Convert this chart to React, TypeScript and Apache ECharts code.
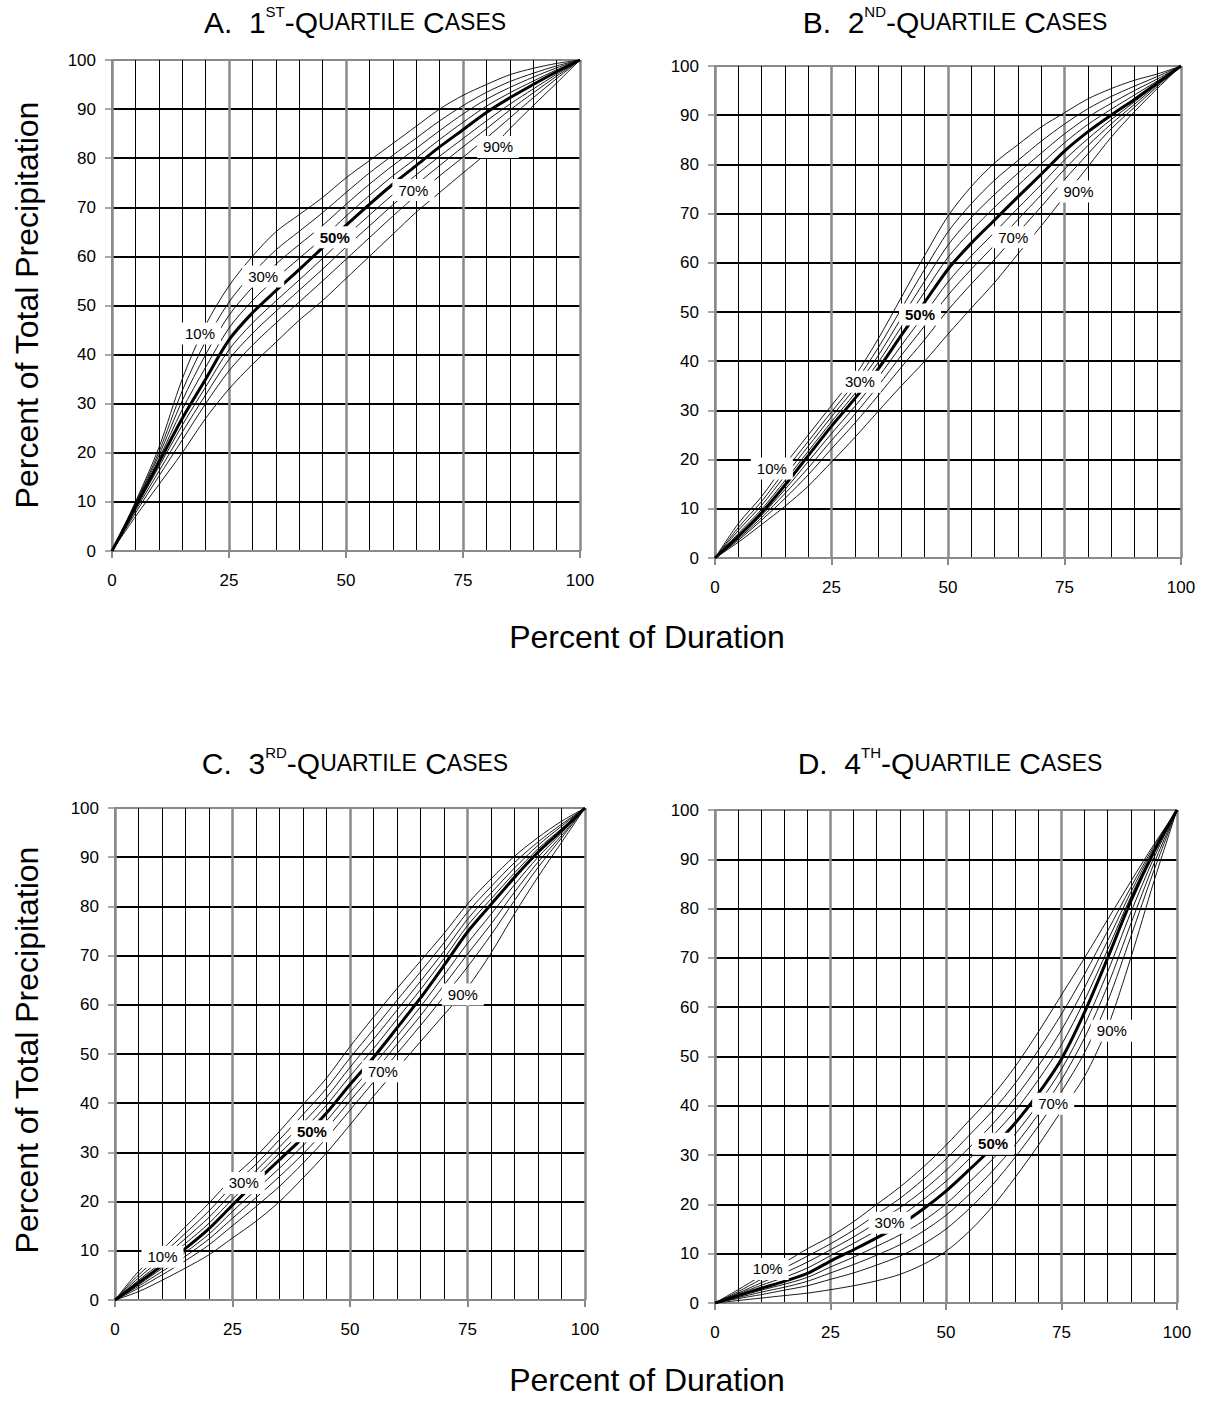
import React, { useEffect, useRef } from "react";
import * as echarts from "echarts";

const DURATION = [0, 5, 10, 15, 20, 25, 30, 35, 40, 45, 50, 55, 60, 65, 70, 75, 80, 85, 90, 95, 100];
const PERCENTILES = ["10%", "20%", "30%", "40%", "50%", "60%", "70%", "80%", "90%"];
const X_TICKS = [0, 25, 50, 75, 100];
const Y_TICKS = [0, 10, 20, 30, 40, 50, 60, 70, 80, 90, 100];

const PANEL_A = [
  [0, 10, 21, 35, 46, 54, 60, 65, 68.5, 72, 76, 79.5, 83, 86.5, 90, 92.8, 95, 97, 98.3, 99.3, 100],
  [0, 9.7, 20.1, 32.6, 42.7, 50.7, 56.5, 61.3, 65.1, 68.9, 73, 77, 80.6, 84.1, 87.6, 90.7, 93.4, 95.6, 97.3, 98.8, 100],
  [0, 9.5, 19.4, 30.6, 40, 48, 53.7, 58.4, 62.4, 66.3, 70.6, 74.7, 78.5, 82, 85.6, 89, 92, 94.4, 96.5, 98.4, 100],
  [0, 9.2, 18.7, 28.8, 37.4, 45.4, 51, 55.5, 59.6, 63.7, 68.2, 72.4, 76.4, 80, 83.8, 87.3, 90.6, 93.3, 95.7, 98, 100],
  [0, 9, 18, 27, 35, 43, 48.5, 53, 57.3, 61.8, 66.3, 70.6, 74.7, 78.5, 82.3, 85.8, 89.3, 92.3, 95, 97.6, 100],
  [0, 8.6, 17.1, 25.6, 33.4, 41, 46.4, 50.9, 55.2, 59.6, 64.1, 68.4, 72.6, 76.6, 80.4, 84, 87.6, 91, 94.1, 97.1, 100],
  [0, 8.2, 16.2, 24.2, 31.8, 39, 44.3, 48.8, 53.1, 57.4, 61.9, 66.2, 70.5, 74.6, 78.5, 82.3, 86, 89.8, 93.3, 96.7, 100],
  [0, 7.7, 15.2, 22.6, 30, 36.7, 41.9, 46.4, 50.7, 55, 59.4, 63.8, 68.2, 72.4, 76.4, 80.2, 84.1, 88.2, 92.3, 96.2, 100],
  [0, 7, 13.5, 20, 27, 33, 38, 42.5, 47, 51, 55.5, 60, 64.5, 69, 73, 77, 81, 86, 90.7, 95.3, 100],
];

const PANEL_B = [
  [0, 7, 12.5, 19, 25, 31, 37, 44.5, 53, 61.5, 69.5, 75.5, 80.3, 84, 87.6, 90.5, 93.3, 95.4, 97.1, 98.4, 100],
  [0, 6.2, 11.5, 17.7, 23.7, 29.7, 35.6, 42.7, 50.7, 58.7, 66.3, 72, 76.8, 80.8, 84.7, 88.2, 91.3, 93.8, 95.9, 97.9, 100],
  [0, 5.6, 10.7, 16.7, 22.7, 28.7, 34.5, 41.1, 48.8, 56.3, 63.6, 69.2, 73.9, 78.2, 82.3, 86.2, 89.6, 92.4, 95, 97.4, 100],
  [0, 5, 9.9, 15.7, 21.7, 27.7, 33.4, 39.7, 47, 54.1, 61.1, 66.5, 71.3, 75.7, 80.1, 84.4, 88.1, 91.2, 94.1, 97, 100],
  [0, 4.4, 9.2, 14.8, 20.8, 26.8, 32.4, 38.4, 45.3, 52, 58.7, 64, 68.7, 73.4, 78, 82.7, 86.6, 90, 93.2, 96.6, 100],
  [0, 4.2, 8.7, 13.9, 19.6, 25.3, 30.8, 36.7, 43.2, 49.6, 56.1, 61.4, 66.2, 71.1, 75.9, 80.9, 85.2, 89.1, 92.7, 96.4, 100],
  [0, 3.9, 8.2, 13.1, 18.3, 23.9, 29.2, 35, 41.2, 47.2, 53.4, 58.7, 63.6, 68.8, 73.8, 79, 83.8, 88.2, 92.2, 96.2, 100],
  [0, 3.6, 7.7, 12.1, 16.9, 22.2, 27.4, 33, 38.8, 44.4, 50.4, 55.7, 60.7, 66.1, 71.4, 76.9, 82.1, 87.2, 91.6, 95.9, 100],
  [0, 3.2, 6.8, 10.5, 14.6, 19.5, 24.5, 29.8, 35, 40, 45.5, 50.8, 56, 61.8, 67.5, 73.5, 79.5, 85.5, 90.7, 95.5, 100],
];

const PANEL_C = [
  [0, 5.8, 10.2, 14.9, 19.7, 24.8, 29.2, 34.3, 39.7, 45.1, 51.5, 57.5, 63.3, 68.9, 74.5, 80.5, 85.6, 90.2, 94, 97.3, 100],
  [0, 5.1, 9.2, 13.6, 18.1, 23.2, 27.6, 32.6, 37.7, 43, 49.2, 55, 60.9, 66.7, 72.6, 78.8, 84, 88.9, 93.1, 96.7, 100],
  [0, 4.5, 8.4, 12.5, 16.8, 21.8, 26.3, 31.1, 36, 41.2, 47.3, 53, 58.9, 64.8, 70.9, 77.4, 82.7, 87.8, 92.4, 96.3, 100],
  [0, 4, 7.7, 11.5, 15.6, 20.5, 25.1, 29.8, 34.5, 39.6, 45.5, 51.1, 57.1, 63.1, 69.4, 76.1, 81.5, 86.8, 91.7, 95.8, 100],
  [0, 3.5, 7, 10.5, 14.5, 19.3, 24, 28.5, 33, 38, 43.8, 49.3, 55.3, 61.4, 68, 74.8, 80.4, 85.9, 91, 95.4, 100],
  [0, 3.1, 6.4, 9.7, 13.4, 18, 22.4, 26.8, 31.4, 36.4, 42.2, 47.7, 53.6, 59.6, 66, 72.5, 78.4, 84.4, 90, 94.9, 100],
  [0, 2.8, 5.8, 8.9, 12.4, 16.6, 20.8, 25.1, 29.7, 34.8, 40.5, 46.1, 52, 57.8, 64, 70.3, 76.4, 82.9, 89, 94.4, 100],
  [0, 2.4, 5.1, 8, 11.2, 15.1, 19, 23.1, 27.8, 32.9, 38.6, 44.3, 50.1, 55.8, 61.7, 67.7, 74.2, 81.2, 87.9, 93.9, 100],
  [0, 1.7, 4, 6.5, 9.2, 12.6, 16, 20, 24.8, 29.9, 35.6, 41.4, 47, 52.5, 58, 63.5, 70.5, 78.5, 86, 93, 100],
];

const PANEL_D = [
  [0, 2.7, 5.5, 8.2, 11, 13.5, 16.5, 20, 23.5, 27.5, 32, 37, 42, 48, 55, 62.5, 70, 77.8, 85.5, 93, 100],
  [0, 2.3, 4.8, 7.1, 9.5, 12, 14.8, 18, 21.2, 25, 29.2, 34, 38.9, 44.6, 51.3, 58.6, 66.7, 75.5, 84.3, 92.6, 100],
  [0, 2, 4.1, 6.1, 8.3, 10.8, 13.4, 16.3, 19.3, 22.8, 26.9, 31.5, 36.2, 41.7, 48.1, 55.4, 64, 73.5, 83.3, 92.2, 100],
  [0, 1.8, 3.6, 5.2, 7.1, 9.6, 12.1, 14.7, 17.5, 20.9, 24.7, 29.2, 33.8, 39, 45.3, 52.4, 61.4, 71.7, 82.4, 91.8, 100],
  [0, 1.5, 3, 4.4, 6, 8.5, 10.8, 13.2, 15.8, 19, 22.7, 27, 31.5, 36.5, 42.5, 49.5, 59, 70, 81.5, 91.5, 100],
  [0, 1.3, 2.6, 3.8, 5.2, 7.3, 9.3, 11.5, 13.8, 16.6, 20.1, 24.5, 29.1, 34.3, 40.4, 47.4, 56.4, 67.2, 79.2, 90.3, 100],
  [0, 1.1, 2.2, 3.2, 4.4, 6.1, 7.8, 9.7, 11.8, 14.5, 17.8, 22, 26.7, 32.1, 38.3, 45.3, 53.8, 64.4, 76.9, 89.1, 100],
  [0, 0.9, 1.7, 2.6, 3.5, 4.8, 6.1, 7.7, 9.5, 11.9, 15, 19.1, 23.9, 29.6, 35.9, 42.9, 50.8, 61.2, 74.3, 87.7, 100],
  [0, 0.5, 1, 1.5, 2, 2.7, 3.5, 4.5, 5.8, 7.8, 10.5, 14.5, 19.5, 25.5, 32, 39, 46, 56, 70, 85.5, 100],
];

const LABELS_A: [number, number, string][] = [[18.8, 44.3, "10%"], [32.3, 55.9, "30%"], [47.6, 63.9, "50%"], [64.4, 73.5, "70%"], [82.5, 82.3, "90%"]];
const LABELS_B: [number, number, string][] = [[12.2, 18.2, "10%"], [31.1, 35.8, "30%"], [44, 49.5, "50%"], [64, 65.2, "70%"], [78, 74.5, "90%"]];
const LABELS_C: [number, number, string][] = [[10.1, 8.8, "10%"], [27.4, 23.8, "30%"], [41.9, 34.3, "50%"], [57, 46.5, "70%"], [74, 62.1, "90%"]];
const LABELS_D: [number, number, string][] = [[11.4, 6.9, "10%"], [37.8, 16.3, "30%"], [60.2, 32.3, "50%"], [73.2, 40.4, "70%"], [85.9, 55.2, "90%"]];

const TITLES = [
  { letter: "A.", ord: "1", sup: "ST" },
  { letter: "B.", ord: "2", sup: "ND" },
  { letter: "C.", ord: "3", sup: "RD" },
  { letter: "D.", ord: "4", sup: "TH" },
];

const FONT = "'Liberation Sans', Arial, Helvetica, sans-serif";

const GRIDS = [
  { left: 112, top: 60, width: 468, height: 491 },
  { left: 715, top: 66, width: 466, height: 492 },
  { left: 115, top: 808, width: 470, height: 492 },
  { left: 715, top: 810, width: 462, height: 493 },
];
const TITLE_POS = [
  [355, 22],
  [955, 22],
  [355, 763],
  [950, 763],
];

export default function App() {
  const ref = useRef<HTMLDivElement>(null);
  useEffect(() => {
    document.body.style.margin = "0";
    if (!ref.current) return;
    const chart = echarts.init(ref.current, undefined, { renderer: "svg" });
    const panels = [PANEL_A, PANEL_B, PANEL_C, PANEL_D];
    const labels = [LABELS_A, LABELS_B, LABELS_C, LABELS_D];

    const yColors = Y_TICKS.map((v) => (v === 0 || v === 100 ? "#8a8a8a" : "#000"));

    const xAxis = GRIDS.map((_, i) => ({
      gridIndex: i,
      type: "value",
      min: X_TICKS[0],
      max: X_TICKS[X_TICKS.length - 1],
      interval: 25,
      axisLine: { show: true, onZero: false, lineStyle: { color: "#8a8a8a", width: 2 } },
      axisTick: { show: true, inside: false, length: 7, lineStyle: { color: "#8a8a8a", width: 2 } },
      axisLabel: { fontSize: 17, color: "#000", margin: 21, fontFamily: FONT },
      splitLine: { show: true, lineStyle: { color: "#8a8a8a", width: 2.5 } },
      minorTick: { show: false, splitNumber: 5 },
      minorSplitLine: { show: true, lineStyle: { color: "#000", width: 1 } },
    }));
    const yAxis = GRIDS.map((_, i) => ({
      gridIndex: i,
      type: "value",
      min: Y_TICKS[0],
      max: Y_TICKS[Y_TICKS.length - 1],
      interval: 10,
      axisLine: { show: true, onZero: false, lineStyle: { color: "#8a8a8a", width: 2 } },
      axisTick: { show: true, inside: false, length: 7, lineStyle: { color: "#8a8a8a", width: 1.5 } },
      axisLabel: { fontSize: 17, color: "#000", margin: 16, fontFamily: FONT },
      splitLine: { show: true, lineStyle: { color: yColors, width: 2 } },
    }));

    const series: any[] = [];
    panels.forEach((curves, p) => {
      curves.forEach((vals, k) => {
        series.push({
          type: "line",
          name: PERCENTILES[k],
          xAxisIndex: p,
          yAxisIndex: p,
          data: DURATION.map((x, j) => [x, vals[j]]),
          symbol: "none",
          smooth: 0.3,
          silent: true,
          lineStyle: { color: "#000", width: k === 4 ? 3 : 0.9 },
          z: k === 4 ? 4 : 3,
        });
      });
      series.push({
        type: "scatter",
        xAxisIndex: p,
        yAxisIndex: p,
        symbolSize: 2,
        itemStyle: { color: "transparent", opacity: 1 },
        silent: true,
        z: 10,
        zlevel: 0,
        data: labels[p].map((l) => ({
          value: [l[0], l[1]],
          name: l[2],
          label: { fontWeight: l[2] === "50%" ? "bold" : "normal" },
        })),
        label: {
          show: true,
          position: "inside",
          formatter: "{b}",
          backgroundColor: "#ffffff",
          padding: [4, 6, 3, 6],
          color: "#000000",
          opacity: 1,
          textBorderWidth: 0,
          fontSize: 15,
          fontFamily: FONT,
        },
        labelLayout: { hideOverlap: false },
      });
    });

    const graphic: any[] = [];
    TITLES.forEach((t, i) => {
      graphic.push({
        type: "text",
        x: TITLE_POS[i][0],
        y: TITLE_POS[i][1],
        style: {
          text: `{a|${t.letter}  ${t.ord}}{s|${t.sup}}{a|-Q}{c|UARTILE}{a| C}{c|ASES}`,
          align: "center",
          verticalAlign: "middle",
          fontFamily: FONT,
          fill: "#000",
          rich: {
            a: { fontSize: 30, fontFamily: FONT, fill: "#000", lineHeight: 36, verticalAlign: "middle" },
            c: { fontSize: 23, fontFamily: FONT, fill: "#000", lineHeight: 36, verticalAlign: "middle" },
            s: { fontSize: 15, fontFamily: FONT, fill: "#000", lineHeight: 20, verticalAlign: "top" },
          },
        },
      });
    });
    [305, 1050].forEach((cy) => {
      graphic.push({
        type: "text",
        x: 27,
        y: cy,
        rotation: Math.PI / 2,
        style: {
          text: "Percent of Total Precipitation",
          align: "center",
          verticalAlign: "middle",
          fontSize: 32,
          fontFamily: FONT,
          fill: "#000",
        },
      });
    });
    [637, 1380].forEach((cy) => {
      graphic.push({
        type: "text",
        x: 647,
        y: cy,
        style: {
          text: "Percent of Duration",
          align: "center",
          verticalAlign: "middle",
          fontSize: 32,
          fontFamily: FONT,
          fill: "#000",
        },
      });
    });

    chart.setOption({
      animation: false,
      backgroundColor: "#fff",
      grid: GRIDS.map((g) => ({ ...g, containLabel: false })),
      xAxis,
      yAxis,
      series,
      graphic,
    });
    return () => chart.dispose();
  }, []);
  return <div ref={ref} style={{ width: 1210, height: 1405 }} />;
}
